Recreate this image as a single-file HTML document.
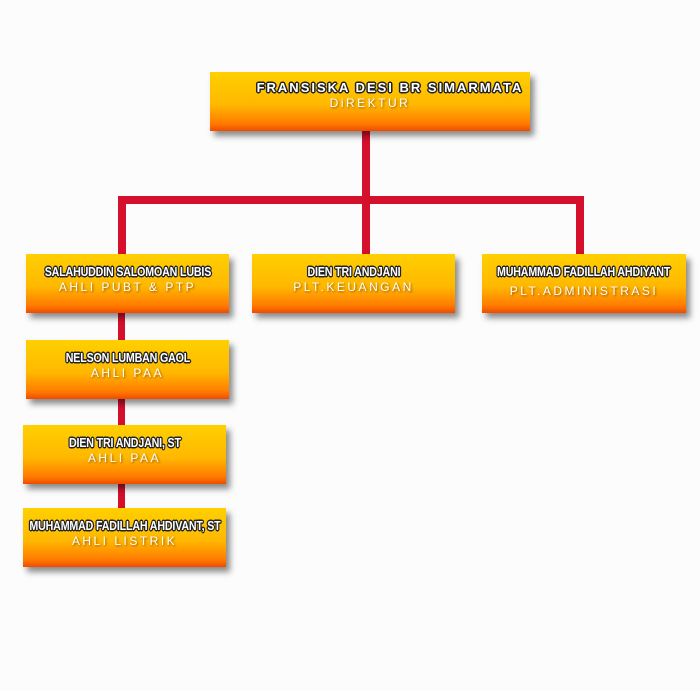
<!DOCTYPE html>
<html><head><style>
body{margin:0;width:700px;height:691px;overflow:hidden;background:#fcfcfc;position:relative;font-family:"Liberation Sans",sans-serif}
.b{position:absolute;height:59px;background:linear-gradient(#ffd000 0%,#ffb800 55%,#ff7a00 88%,#f04a00 100%);box-shadow:4px 5px 6px rgba(0,0,0,0.45);text-align:center;color:#fff;white-space:nowrap}
.n{font-weight:bold;font-size:13px;margin-top:10px;display:block;width:130%;margin-left:-15%;transform:scaleX(0.82);transform-origin:center;letter-spacing:-0.2px;
text-shadow:-1.5px 0 #222,1.5px 0 #222,0 -1.5px #222,0 1.5px #222,-1px -1px #222,1px 1px #222,-1px 1px #222,1px -1px #222}
.t{font-size:12px;letter-spacing:2.5px;margin-top:1px;text-shadow:1px 1px 2px rgba(120,60,0,0.8)}
.l{position:absolute;background:#d4102c}
</style></head><body>
<div class="l" style="left:362px;top:131px;width:8px;height:72px"></div>
<div class="l" style="left:118px;top:196px;width:466px;height:8px"></div>
<div class="l" style="left:118px;top:196px;width:8px;height:58px"></div>
<div class="l" style="left:362px;top:196px;width:8px;height:58px"></div>
<div class="l" style="left:576px;top:196px;width:8px;height:58px"></div>
<div class="l" style="left:118px;top:313px;width:7px;height:27px"></div>
<div class="l" style="left:118px;top:399px;width:7px;height:26px"></div>
<div class="l" style="left:118px;top:484px;width:7px;height:24px"></div>

<div class="b" style="left:210px;top:72px;width:320px"><div class="n" style="margin-top:8px;width:auto;margin-left:40px;letter-spacing:2px;transform:none">FRANSISKA DESI BR SIMARMATA</div><div class="t">DiREKTUR</div></div>
<div class="b" style="left:26px;top:254px;width:203px"><div class="n">SALAHUDDIN SALOMOAN LUBIS</div><div class="t">AHLI PUBT &amp; PTP</div></div>
<div class="b" style="left:252px;top:254px;width:203px"><div class="n">DIEN TRI ANDJANI</div><div class="t">PLT.KEUANGAN</div></div>
<div class="b" style="left:482px;top:254px;width:204px"><div class="n">MUHAMMAD FADILLAH AHDIYANT</div><div class="t" style="margin-top:5px">PLT.ADMINISTRASI</div></div>
<div class="b" style="left:26px;top:340px;width:203px"><div class="n">NELSON LUMBAN GAOL</div><div class="t">AHLI PAA</div></div>
<div class="b" style="left:23px;top:425px;width:203px"><div class="n">DIEN TRI ANDJANI, ST</div><div class="t">AHLI PAA</div></div>
<div class="b" style="left:23px;top:508px;width:203px"><div class="n">MUHAMMAD FADILLAH AHDIVANT, ST</div><div class="t">AHLI LISTRIK</div></div>
</body></html>
